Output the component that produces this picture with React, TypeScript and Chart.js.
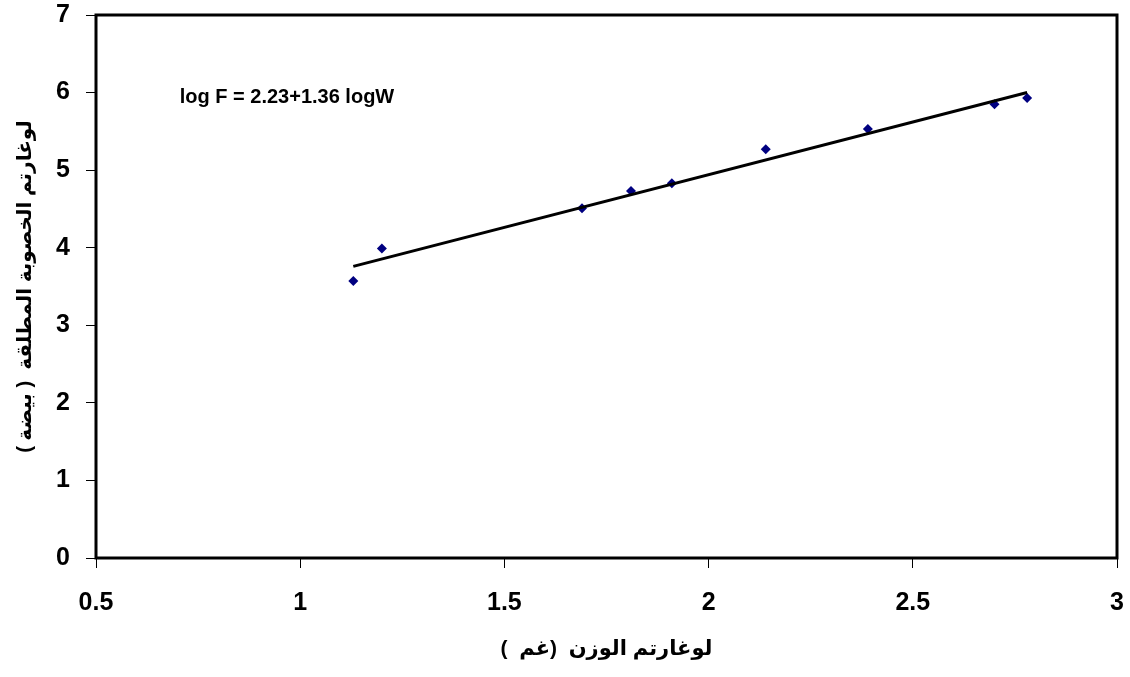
import React, { useEffect, useRef } from "react";
import { Chart, registerables } from "chart.js";

Chart.register(...registerables);

const xValues = [1.13, 1.2, 1.69, 1.81, 1.91, 2.14, 2.39, 2.7, 2.78];
const yValues = [3.57, 3.99, 4.51, 4.73, 4.83, 5.27, 5.53, 5.85, 5.93];
const trendX = [1.13, 2.78];
const trendY = [3.76, 6.0];
const equationText = "log F = 2.23+1.36 logW";
const equationPos = { x: 0.705, y: 5.94 };
const xTitle = "\u200Fلوغارتم الوزن  (غم  )\u200F";
const yTitle = "\u200Fلوغارتم الخصوبة المطلقة  ( بيضة )\u200F";

const FONT = "Arial, 'Liberation Sans', 'DejaVu Sans', sans-serif";

const framePlugin = {
  id: "frame",
  afterDraw(chart: any) {
    const { ctx, chartArea } = chart;
    ctx.save();
    ctx.strokeStyle = "#000";
    ctx.lineWidth = 3;
    ctx.strokeRect(
      chartArea.left,
      chartArea.top,
      chartArea.right - chartArea.left,
      chartArea.bottom - chartArea.top
    );
    const xs = chart.scales.x;
    const ys = chart.scales.y;
    ctx.fillStyle = "#000";
    ctx.font = `bold 20px ${FONT}`;
    ctx.textAlign = "left";
    ctx.textBaseline = "middle";
    ctx.fillText(
      equationText,
      xs.getPixelForValue(equationPos.x),
      ys.getPixelForValue(equationPos.y)
    );
    ctx.restore();
  },
};

export default function App() {
  const ref = useRef<HTMLCanvasElement | null>(null);
  useEffect(() => {
    if (!ref.current) return;
    const chart = new Chart(ref.current, {
      type: "scatter",
      data: {
        datasets: [
          {
            type: "line",
            data: trendX.map((x, i) => ({ x, y: trendY[i] })),
            borderColor: "#000",
            borderWidth: 3,
            pointRadius: 0,
            fill: false,
          },
          {
            data: xValues.map((x, i) => ({ x, y: yValues[i] })),
            backgroundColor: "#000080",
            borderColor: "#000080",
            pointStyle: "rectRot",
            pointRadius: 5,
            borderWidth: 0,
          },
        ],
      },
      options: {
        responsive: false,
        animation: false,
        layout: { padding: { top: 15, right: 13, left: 0, bottom: 0 } },
        plugins: { legend: { display: false }, tooltip: { enabled: false } },
        scales: {
          x: {
            type: "linear",
            min: 0.5,
            max: 3,
            afterFit: (s: any) => {
              s.height = 119;
              s.paddingLeft = 0;
              s.paddingRight = 0;
            },
            ticks: {
              stepSize: 0.5,
              color: "#000",
              padding: 20,
              font: { family: FONT, size: 25, weight: "bold" },
              callback: (v: any) => String(Number(v)),
            },
            grid: {
              display: true,
              drawOnChartArea: false,
              drawTicks: true,
              tickLength: 10,
              color: "#000",
              lineWidth: 1,
            },
            border: { display: false },
            title: {
              display: true,
              text: xTitle,
              color: "#000",
              font: { family: FONT, size: 21, weight: "bold" },
              padding: { top: 0, bottom: 15 },
            },
          },
          y: {
            type: "linear",
            min: 0,
            max: 7,
            afterFit: (s: any) => {
              s.width = 96;
              s.paddingTop = 0;
              s.paddingBottom = 0;
            },
            ticks: {
              stepSize: 1,
              color: "#000",
              padding: 16,
              font: { family: FONT, size: 25, weight: "bold" },
            },
            grid: {
              display: true,
              drawOnChartArea: false,
              drawTicks: true,
              tickLength: 10,
              color: "#000",
              lineWidth: 1,
            },
            border: { display: false },
            title: {
              display: true,
              text: yTitle,
              color: "#000",
              font: { family: FONT, size: 20, weight: "bold" },
              padding: { top: 13, bottom: 0 },
            },
          },
        },
      },
      plugins: [framePlugin],
    });
    return () => chart.destroy();
  }, []);
  return (
    <div style={{ position: "absolute", left: 0, top: 0, width: 1130, height: 677, background: "#fff" }}>
      <canvas ref={ref} width={1130} height={677} />
    </div>
  );
}
